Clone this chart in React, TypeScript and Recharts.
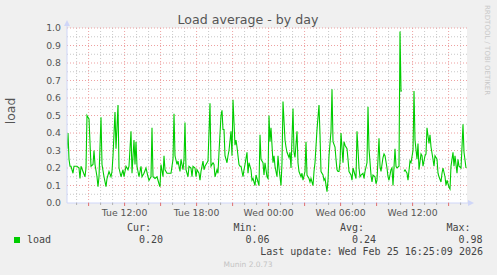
/**
 * Munin "Load average - by day" graph, redrawn with Recharts
 */

import {
  LineChart,
  Line,
  XAxis,
  YAxis,
  CartesianGrid,
} from 'recharts';

// samples are 5 minutes apart, first one at Tue 07:12 (minutes since Tue 00:00)
const START_MIN = 432;
const STEP_MIN = 5;
const END_MIN = 2432;

// sample index (5-min steps from start) and load value
const sampleSteps = [
  0, 1, 2, 3, 4, 6, 7, 10, 12, 13, 14, 16, 18, 19, 20, 21, 22, 24, 26, 27,
  28, 30, 31, 32, 34, 35, 37, 39, 40, 42, 44, 45, 46, 48, 49, 51, 52, 54, 56, 57,
  59, 61, 62, 64, 65, 67, 68, 69, 70, 72, 74, 75, 77, 79, 81, 82, 84, 85, 86, 88,
  90, 92, 93, 94, 96, 97, 98, 100, 102, 104, 106, 107, 108, 110, 111, 113, 114, 116, 117, 118,
  119, 121, 122, 124, 125, 126, 128, 129, 130, 132, 133, 134, 136, 137, 138, 140, 141, 143, 144, 146,
  147, 148, 150, 151, 152, 154, 155, 156, 157, 158, 160, 161, 162, 164, 165, 166, 168, 169, 170, 172,
  173, 174, 176, 177, 178, 180, 181, 182, 184, 185, 186, 188, 189, 190, 192, 193, 194, 196, 197, 198,
  200, 201, 202, 203, 204, 206, 207, 208, 210, 211, 212, 214, 215, 216, 218, 219, 220, 222, 223, 224,
  226, 227, 228, 230, 231, 232, 234, 235, 236, 238, 239, 240, 242, 243, 244, 246, 247, 248, 250, 252,
  253, 254, 256, 257, 258, 260, 261, 262, 264, 265, 266, 268, 269, 270, 271, 272, 273, 274, 276, 277,
  278, 280, 281, 282, 284, 285, 286, 288, 289, 290, 292, 293, 294, 296, 297, 298, 300, 301, 302, 304,
  305, 306, 308, 309, 310, 312, 313, 314, 316, 317, 318, 320, 321, 322, 324, 325, 326, 328, 329, 330,
  332, 333, 334, 335, 336, 337, 338, 340, 341, 343, 344, 346, 347, 348, 350, 351, 352, 354, 355, 356,
  358, 359, 360, 362, 363, 364, 366, 367, 368, 370, 371, 372, 374, 375, 376, 378, 379, 380, 382, 383,
  384, 386, 387, 388, 390, 391, 392, 394, 395, 396, 397, 399,
];

const loadValues: (number | null)[] = [
  0.31, 0.40, 0.25, 0.21, 0.21, 0.17, 0.21, 0.21, 0.20, 0.14, 0.21, 0.18, 0.15, 0.20, 0.50, 0.49, 0.48, 0.21, 0.22, 0.30,
  0.22, 0.15, 0.093, 0.15, 0.49, 0.22, 0.15, 0.093, 0.14, 0.18, 0.15, 0.18, 0.27, 0.52, 0.31, 0.56, 0.20, 0.15, 0.19, 0.15,
  0.21, 0.19, 0.21, 0.41, 0.17, 0.36, 0.22, 0.35, 0.21, 0.15, 0.21, 0.15, 0.17, 0.20, 0.15, 0.13, 0.15, 0.43, 0.15, 0.14,
  0.15, 0.11, 0.093, 0.22, 0.15, 0.27, 0.19, 0.17, 0.17, 0.17, 0.25, 0.51, 0.27, 0.22, 0.24, 0.18, 0.25, 0.19, 0.25, 0.46,
  0.19, 0.15, 0.21, 0.20, 0.15, 0.21, 0.20, 0.15, 0.19, 0.17, 0.13, 0.18, 0.24, 0.19, 0.21, 0.23, 0.24, 0.57, 0.21, 0.23,
  0.22, 0.15, 0.19, 0.17, 0.29, 0.50, 0.53, 0.42, 0.42, 0.27, 0.23, 0.27, 0.30, 0.41, 0.27, 0.59, 0.33, 0.36, 0.32, 0.22,
  0.21, 0.21, 0.15, 0.19, 0.22, 0.29, 0.17, 0.23, 0.19, 0.13, 0.14, 0.10, 0.16, 0.14, 0.10, 0.39, 0.25, 0.23, 0.16, 0.23,
  0.15, 0.14, 0.50, 0.35, 0.43, 0.23, 0.27, 0.21, 0.15, 0.27, 0.20, 0.10, 0.23, 0.58, 0.36, 0.32, 0.29, 0.26, 0.29, 0.20,
  0.54, 0.29, 0.26, 0.41, 0.23, 0.18, 0.15, 0.17, 0.13, 0.18, 0.35, 0.16, 0.14, 0.12, 0.14, 0.10, 0.18, 0.23, 0.42, 0.56,
  0.39, 0.18, 0.16, 0.13, 0.14, 0.065, 0.13, 0.27, 0.41, 0.65, 0.35, 0.32, 0.25, 0.19, 0.18, 0.18, 0.23, 0.40, 0.23, 0.35,
  0.33, 0.31, 0.25, 0.18, 0.16, 0.13, 0.20, 0.16, 0.14, 0.41, 0.20, 0.15, 0.16, 0.17, 0.14, 0.18, 0.23, 0.55, 0.31, 0.16,
  0.12, 0.16, 0.15, 0.11, 0.13, 0.37, 0.21, 0.18, 0.26, 0.28, 0.27, 0.20, 0.15, 0.13, 0.19, 0.20, 0.10, 0.31, 0.21, 0.20,
  0.21, 0.98, 0.64, 0.64, null, 0.18, 0.19, 0.17, 0.13, 0.24, 0.23, 0.30, 0.64, 0.36, 0.25, 0.34, 0.19, 0.28, 0.27, 0.21,
  0.27, 0.28, 0.43, 0.34, 0.39, 0.32, 0.25, 0.21, 0.27, 0.25, 0.17, 0.15, 0.12, 0.17, 0.20, 0.15, 0.10, 0.13, 0.09, 0.08,
  0.21, 0.29, 0.21, 0.27, 0.17, 0.25, 0.21, 0.20, 0.32, 0.45, 0.29, 0.20,
];

// axis ticks
const yTicks = [0, 0.1, 0.2, 0.3, 0.4, 0.5, 0.6, 0.7, 0.8, 0.9, 1.0];
const yMinorGrid = [0.05, 0.15, 0.25, 0.35, 0.45, 0.55, 0.65, 0.75, 0.85, 0.95];
const xLabelTicks = [720, 1080, 1440, 1800, 2160];
const xLabels = ['Tue 12:00', 'Tue 18:00', 'Wed 00:00', 'Wed 06:00', 'Wed 12:00'];

// legend stats
const statNames = ['Cur:', 'Min:', 'Avg:', 'Max:'];
const statValues = ['0.20', '0.06', '0.24', '0.98'];
const lastUpdate = 'Last update: Wed Feb 25 16:25:09 2026';

const W = 497;
const H = 275;
const PLOT = { left: 67, top: 28, right: 467, bottom: 203 };

const LINE_COLOR = '#00cc00';
const AXIS_COLOR = '#cfd6f8';
const MAJOR_GRID = '#eea0a0';
const MINOR_GRID = '#c8c8c8';
const FONT = '"DejaVu Sans", sans-serif';
const MONO = '"DejaVu Sans Mono", monospace';

const hourTicks = Array.from({ length: 33 }, (_, i) => 480 + i * 60);
const majorHours = hourTicks.filter(t => t % 180 === 0);
const minorHours = hourTicks.filter(t => t % 180 !== 0);

const chartData = sampleSteps.map((s, i) => ({
  t: START_MIN + s * STEP_MIN,
  load: loadValues[i],
}));

const XTick = ({ x, y, payload }: any) => {
  const v = payload.value;
  const major = v % 180 === 0;
  const idx = xLabelTicks.indexOf(v);
  return (
    <g>
      <line x1={x} x2={x} y1={y} y2={y + (major ? 3 : 2)} stroke={major ? '#e07070' : '#b0b0b0'} strokeWidth={1} />
      {idx >= 0 && (
        <text x={x} y={y + 12.5} textAnchor="middle" fontSize={9.3} fontFamily={FONT} fill="#555">
          {xLabels[idx]}
        </text>
      )}
    </g>
  );
};

const YTick = ({ x, y, payload }: any) => (
  <text x={x - 6} y={y} dy="0.36em" textAnchor="end" fontSize={9.3} fontFamily={FONT} fill="#555">
    {payload.value.toFixed(1)}
  </text>
);

export default function App() {
  return (
    <div style={{ position: 'absolute', left: 0, top: 0, width: W, height: H, background: '#f0f0f0' }}>
      <LineChart
        width={W}
        height={H}
        data={chartData}
        margin={{ top: PLOT.top, right: W - PLOT.right, bottom: H - PLOT.bottom - 20, left: PLOT.left - 50 }}
      >
        <CartesianGrid
          fill="#ffffff"
          stroke={MINOR_GRID}
          strokeDasharray="1 2"
          horizontalValues={yMinorGrid}
          verticalValues={minorHours}
        />
        <CartesianGrid
          stroke={MAJOR_GRID}
          strokeDasharray="1 2"
          horizontalValues={yTicks.slice(1)}
          verticalValues={majorHours}
        />
        <XAxis
          type="number"
          dataKey="t"
          domain={[START_MIN, END_MIN]}
          ticks={hourTicks}
          interval={0}
          height={20}
          tickSize={0}
          tickMargin={0}
          tickLine={false}
          axisLine={{ stroke: AXIS_COLOR }}
          tick={<XTick />}
          allowDataOverflow
        />
        <YAxis
          type="number"
          domain={[0, 1]}
          ticks={yTicks}
          interval={0}
          width={50}
          tickSize={0}
          tickMargin={0}
          tickLine={false}
          axisLine={{ stroke: AXIS_COLOR }}
          tick={<YTick />}
          allowDataOverflow
        />
        <Line
          type="linear"
          dataKey="load"
          stroke={LINE_COLOR}
          strokeWidth={1.1}
          dot={false}
          activeDot={false}
          isAnimationActive={false}
        />
      </LineChart>

      {/* title, arrows, legend and credits on top */}
      <svg width={W} height={H} style={{ position: 'absolute', left: 0, top: 0, pointerEvents: 'none' }}>
        <text x={248} y={24} textAnchor="middle" fontSize={12.6} fontFamily={FONT} fill="#555">
          Load average - by day
        </text>
        <text transform="translate(15,111) rotate(-90)" textAnchor="middle" fontSize={12.4} fontFamily={FONT} fill="#555">
          load
        </text>
        <text transform="translate(485,5) rotate(90)" fontSize={7} fontFamily={FONT} fill="#c8c8c8">
          RRDTOOL / TOBI OETIKER
        </text>

        {/* axis arrows */}
        <line x1={PLOT.left} x2={PLOT.left} y1={PLOT.top} y2={24} stroke={AXIS_COLOR} />
        <polygon points={`${PLOT.left - 3},26 ${PLOT.left + 3},26 ${PLOT.left},20`} fill={AXIS_COLOR} />
        <line x1={PLOT.right} x2={468} y1={PLOT.bottom} y2={PLOT.bottom} stroke={AXIS_COLOR} />
        <polygon points={`468,${PLOT.bottom - 3} 468,${PLOT.bottom + 3} 474,${PLOT.bottom}`} fill={AXIS_COLOR} />

        {/* legend */}
        <rect x={14} y={237} width={6} height={6} fill={LINE_COLOR} />
        <text x={27} y={243} fontSize={10} fontFamily={MONO} fill="#444">load</text>
        {statNames.map((name, i) => (
          <g key={name}>
            <text x={151 + i * 106.5} y={231} textAnchor="end" fontSize={10} fontFamily={MONO} fill="#444">
              {name}
            </text>
            <text x={163 + i * 106.5} y={243} textAnchor="end" fontSize={10} fontFamily={MONO} fill="#444">
              {statValues[i]}
            </text>
          </g>
        ))}
        <text x={483} y={255} textAnchor="end" fontSize={10} fontFamily={MONO} fill="#444">
          {lastUpdate}
        </text>
        <text x={248} y={267} textAnchor="middle" fontSize={7.5} fontFamily={FONT} fill="#c4c4c4">
          Munin 2.0.73
        </text>
      </svg>
    </div>
  );
}
